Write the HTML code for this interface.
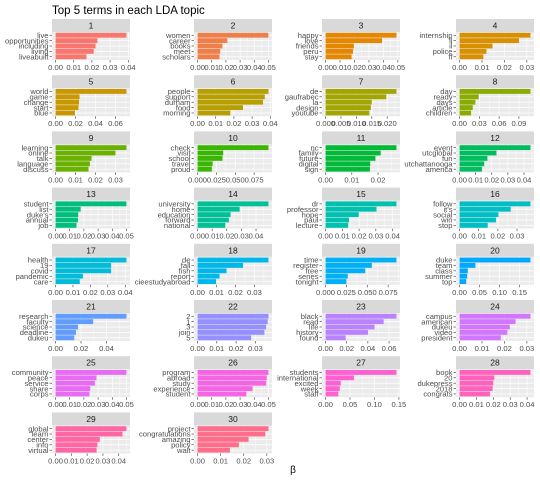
<!DOCTYPE html>
<html><head><meta charset="utf-8"><style>
html,body{margin:0;padding:0;background:#fff;}
svg{display:block;font-family:"Liberation Sans",sans-serif;}
</style></head><body>
<svg id="chart" width="540" height="480" viewBox="0 0 540 480" xmlns="http://www.w3.org/2000/svg">
<text x="52" y="14" font-size="11.5" fill="#000">Top 5 terms in each LDA topic</text>
<text x="293" y="473" font-size="10" fill="#000" text-anchor="middle">β</text>
</svg>
<script>
const topicTerms = [
 ["live","opportunities","including","living","liveabuilt"],
 ["women","career","books","meet","scholars"],
 ["happy","love","friends","peru","stay"],
 ["internship","ll","il","police","ff"],
 ["world","game","change","start","blue"],
 ["people","support","durham","food","morning"],
 ["de","gaufrabec","la","design","youtube"],
 ["day","ready","days","article","children"],
 ["learning","online","talk","language","discuss"],
 ["check","visit","school","travel","proud"],
 ["nc","family","future","digital","sign"],
 ["event","utcglobal","fun","utchattanooga","america"],
 ["student","list","duke's","annual","job"],
 ["university","home","education","forward","national"],
 ["dr","professor","hope","paul","lecture"],
 ["follow","it's","social","win","stop"],
 ["health","19","covid","pandemic","care"],
 ["de","fall","fish","report","cieestudyabroad"],
 ["time","register","free","series","tonight"],
 ["duke","team","class","summer","top"],
 ["research","faculty","science","deadline","dukeu"],
 ["2","1","3","join","5"],
 ["black","read","life","history","found"],
 ["campus","american","dukeu","video","president"],
 ["community","peace","service","share","corps"],
 ["program","abroad","study","experience","student"],
 ["students","international","excited","week","staff"],
 ["book","20","dukepress","2018","congrats"],
 ["global","learn","center","info","virtual"],
 ["project","congratulations","amazing","policy","wait"]
];
const topicBetas = [
 [0.039,0.023,0.022,0.021,0.017],
 [0.050,0.021,0.0175,0.016,0.0155],
 [0.049,0.039,0.0196,0.019,0.018],
 [0.0316,0.0265,0.0147,0.012,0.0106],
 [0.071,0.024,0.0235,0.023,0.0195],
 [0.039,0.037,0.036,0.025,0.018],
 [0.023,0.0197,0.015,0.0147,0.0142],
 [0.1075,0.029,0.024,0.020,0.0175],
 [0.0355,0.030,0.018,0.0172,0.0165],
 [0.094,0.034,0.033,0.020,0.019],
 [0.027,0.021,0.019,0.017,0.0169],
 [0.044,0.0229,0.0173,0.0153,0.0139],
 [0.050,0.0177,0.016,0.0158,0.0148],
 [0.0485,0.0288,0.0226,0.0214,0.019],
 [0.0423,0.0304,0.0198,0.014,0.0135],
 [0.037,0.0267,0.0203,0.019,0.0147],
 [0.0407,0.0319,0.0319,0.0157,0.0139],
 [0.0374,0.024,0.0153,0.0116,0.0098],
 [0.085,0.0555,0.0476,0.0266,0.025],
 [0.177,0.0396,0.0206,0.019,0.0165],
 [0.0557,0.0296,0.0177,0.016,0.0147],
 [0.0368,0.0364,0.0356,0.0347,0.0278],
 [0.067,0.0549,0.0463,0.0402,0.019],
 [0.0316,0.025,0.0224,0.0213,0.0184],
 [0.050,0.0289,0.0277,0.0245,0.0239],
 [0.050,0.0488,0.0484,0.0388,0.0344],
 [0.145,0.058,0.031,0.029,0.026],
 [0.042,0.0206,0.0200,0.0196,0.018],
 [0.0449,0.0424,0.028,0.0265,0.026],
 [0.0307,0.0293,0.0221,0.0179,0.014]
];
const topicTicks = [
 ["0.00","0.01","0.02","0.03","0.04"],["0.00","0.01","0.02","0.03","0.04","0.05"],
 ["0.00","0.01","0.02","0.03","0.04","0.05"],["0.00","0.01","0.02","0.03"],
 ["0.00","0.02","0.04","0.06"],["0.00","0.01","0.02","0.03","0.04"],
 ["0.000","0.005","0.010","0.015","0.020"],["0.00","0.03","0.06","0.09"],
 ["0.00","0.01","0.02","0.03"],["0.000","0.025","0.050","0.075"],
 ["0.00","0.01","0.02"],["0.00","0.01","0.02","0.03","0.04"],
 ["0.00","0.01","0.02","0.03","0.04","0.05"],["0.00","0.01","0.02","0.03","0.04"],
 ["0.00","0.01","0.02","0.03","0.04"],["0.00","0.01","0.02","0.03"],
 ["0.00","0.01","0.02","0.03","0.04"],["0.00","0.01","0.02","0.03"],
 ["0.000","0.025","0.050","0.075"],["0.00","0.05","0.10","0.15"],
 ["0.00","0.02","0.04"],["0.00","0.01","0.02","0.03"],
 ["0.00","0.02","0.04","0.06"],["0.00","0.01","0.02","0.03"],
 ["0.00","0.01","0.02","0.03","0.04","0.05"],["0.00","0.01","0.02","0.03","0.04","0.05"],
 ["0.00","0.05","0.10","0.15"],["0.00","0.01","0.02","0.03","0.04"],
 ["0.00","0.01","0.02","0.03","0.04"],["0.00","0.01","0.02","0.03"]
];

const NS="http://www.w3.org/2000/svg";
const svg=document.getElementById('chart');
const colLeft=[52,194,322,456], PW=78, STRIP=13, PH=28, ROW0=19, PITCH=56.2;

function hcl(h,c,l){
  const Xn=95.047,Yn=100,Zn=108.883;
  const hr=h*Math.PI/180,u=c*Math.cos(hr),v=c*Math.sin(hr);
  const Y=Yn*Math.pow((l+16)/116,3);
  const d=Xn+15*Yn+3*Zn,un=4*Xn/d,vn=9*Yn/d;
  const up=u/(13*l)+un,vp=v/(13*l)+vn;
  const X=Y*9*up/(4*vp),Z=Y*(12-3*up-20*vp)/(4*vp);
  const x=X/100,y=Y/100,z=Z/100;
  let r=3.2404542*x-1.5371385*y-0.4985314*z;
  let g=-0.9692660*x+1.8760108*y+0.0415560*z;
  let b=0.0556434*x-0.2040259*y+1.0572252*z;
  const gm=t=>{t=t<=0.0031308?12.92*t:1.055*Math.pow(t,1/2.4)-0.055;return Math.round(Math.max(0,Math.min(1,t))*255);};
  return `rgb(${gm(r)},${gm(g)},${gm(b)})`;
}
function mk(tag,attrs,parent){const e=document.createElementNS(NS,tag);for(const k in attrs)e.setAttribute(k,attrs[k]);(parent||svg).appendChild(e);return e;}

topicBetas.forEach((vals,i)=>{
  const col=i%4,row=Math.floor(i/4);
  const L=colLeft[col],T=ROW0+row*PITCH,PT=T+STRIP;
  const M=Math.max(...vals);
  const x0=-0.05*M,x1=1.05*M;
  const xs=v=>L+(v-x0)/(x1-x0)*PW;
  const n=vals.length;
  const ys=k=>PT+(k+1-0.4)*PH/(n+0.2); // k=0 top
  const bandUnit=PH/(n+0.2);
  const g=mk('g',{});
  
  
  const strip=mk('rect',{x:L,y:T,width:PW,height:STRIP,fill:'#D9D9D9'},g);
  
  
  const st=mk('text',{x:L+PW/2,y:T+9.5,'font-size':8.5,fill:'#1A1A1A','text-anchor':'middle'},g);
  st.textContent=String(i+1);
  
  
  const bg=mk('rect',{x:L,y:PT,width:PW,height:PH,fill:'#EBEBEB'},g);
  
  
  const tv=topicTicks[i].map(Number);
  const step=tv.length>1?tv[1]-tv[0]:M;
  // minor grid
  for(let t=tv[0]-step/2;t<=x1+1e-9;t+=step){ if(t<x0)continue;
    mk('line',{x1:xs(t),x2:xs(t),y1:PT,y2:PT+PH,stroke:'#fff','stroke-width':0.35},g);}
  // major grid + ticks
  topicTicks[i].forEach((lab,j)=>{const t=tv[j]; if(t<x0-1e-9||t>x1+1e-9)return;
    const X=xs(t);
    mk('line',{x1:X,x2:X,y1:PT,y2:PT+PH,stroke:'#fff','stroke-width':0.7},g);
    mk('line',{x1:X,x2:X,y1:PT+PH,y2:PT+PH+2.5,stroke:'#333','stroke-width':0.6},g);
    const tx=mk('text',{x:X,y:PT+PH+10,'font-size':7.6,fill:'#4D4D4D','text-anchor':'middle'},g);
    tx.textContent=lab;
    
    
  });
  const color=hcl(15+i*12,100,65);
  vals.forEach((v,k)=>{
    const cy=ys(k);
    mk('line',{x1:L,x2:L+PW,y1:cy,y2:cy,stroke:'#fff','stroke-width':0.7},g);
    const bar=mk('rect',{x:xs(0),y:cy-bandUnit*0.45,width:xs(v)-xs(0),height:bandUnit*0.9,fill:color},g);
    
    
    mk('line',{x1:L-2.5,x2:L,y1:cy,y2:cy,stroke:'#333','stroke-width':0.6},g);
    const lt=mk('text',{x:L-3.5,y:cy+2.7,'font-size':7.6,fill:'#4D4D4D','text-anchor':'end'},g);
    lt.textContent=topicTerms[i][k];
    
    
  });
});
</script>
</body></html>
